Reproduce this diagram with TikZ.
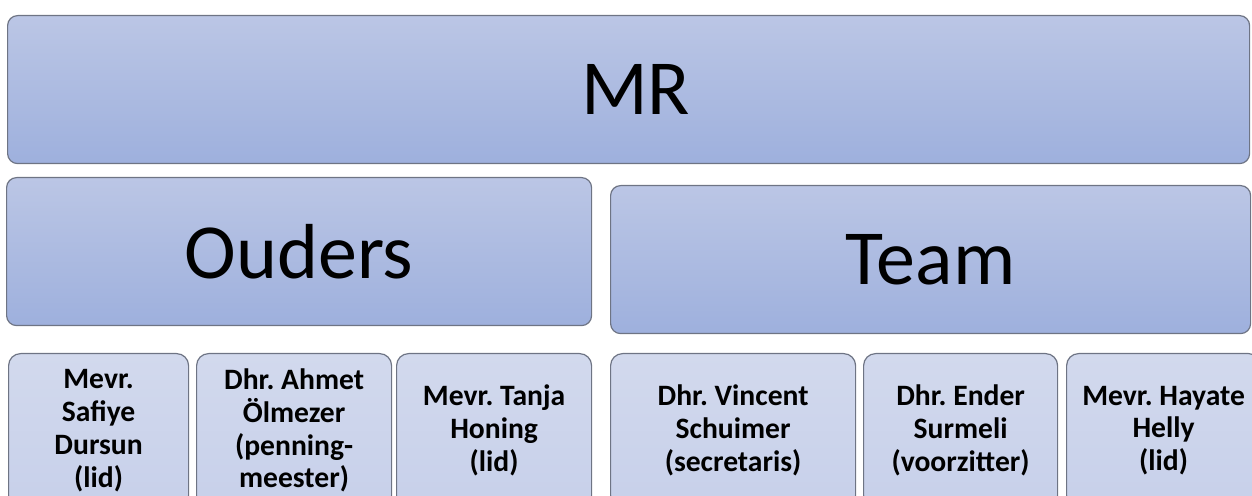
\documentclass[tikz,border=0pt]{standalone}
\usepackage{fontspec}
\setmainfont{Carlito}
\usepackage{tikz}
\frenchspacing
\definecolor{mrtop}{RGB}{187,198,229}
\definecolor{mrbottom}{RGB}{158,176,221}
\definecolor{lidtop}{RGB}{210,217,237}
\definecolor{lidbottom}{RGB}{199,208,234}
\definecolor{mrborder}{RGB}{110,116,132}

\begin{document}
\begin{tikzpicture}[x=0.5pt, y=-0.5pt,
  bigbox/.style={draw=mrborder, line width=0.6pt, rounded corners=5pt, top color=mrtop, bottom color=mrbottom, anchor=north west, inner sep=0pt, minimum height=74pt, font=\fontsize{39}{47}\selectfont},
  lidbox/.style={draw=mrborder, line width=0.6pt, rounded corners=6pt, top color=lidtop, bottom color=lidbottom, anchor=north west, inner sep=0pt, minimum height=77pt, align=center, font=\fontsize{14.8}{16.4}\selectfont\bfseries}]
\useasboundingbox (0,0) rectangle (1252,496);
\clip (0,0) rectangle (1252,496);
% top level
\node[bigbox, minimum width=621pt] (mr) at (7,15) {\hspace*{7pt}MR};
% groups
\node[bigbox, minimum width=292.5pt] (ouders) at (6,177) {Ouders};
\node[bigbox, minimum width=320pt] (team) at (610,185) {Team};
% parents
\node[lidbox, minimum width=90pt] (safiye) at (8,353) {Mevr.\\Safiye\\Dursun\\(lid)};
\node[lidbox, minimum width=97.5pt] (ahmet) at (196,353) {Dhr. Ahmet\\Ölmezer\\(penning-\\meester)};
\node[lidbox, minimum width=97.5pt] (tanja) at (396,353) {Mevr. Tanja\\Honing\\(lid)};
% team members
\node[lidbox, minimum width=122.5pt] (vincent) at (610,353) {Dhr. Vincent\\Schuimer\\(secretaris)};
\node[lidbox, minimum width=97pt] (ender) at (863,353) {Dhr. Ender\\Surmeli\\(voorzitter)};
\node[lidbox, minimum width=97pt] (hayate) at (1066,353) {Mevr. Hayate\\Helly\\(lid)};
\end{tikzpicture}
\end{document}
